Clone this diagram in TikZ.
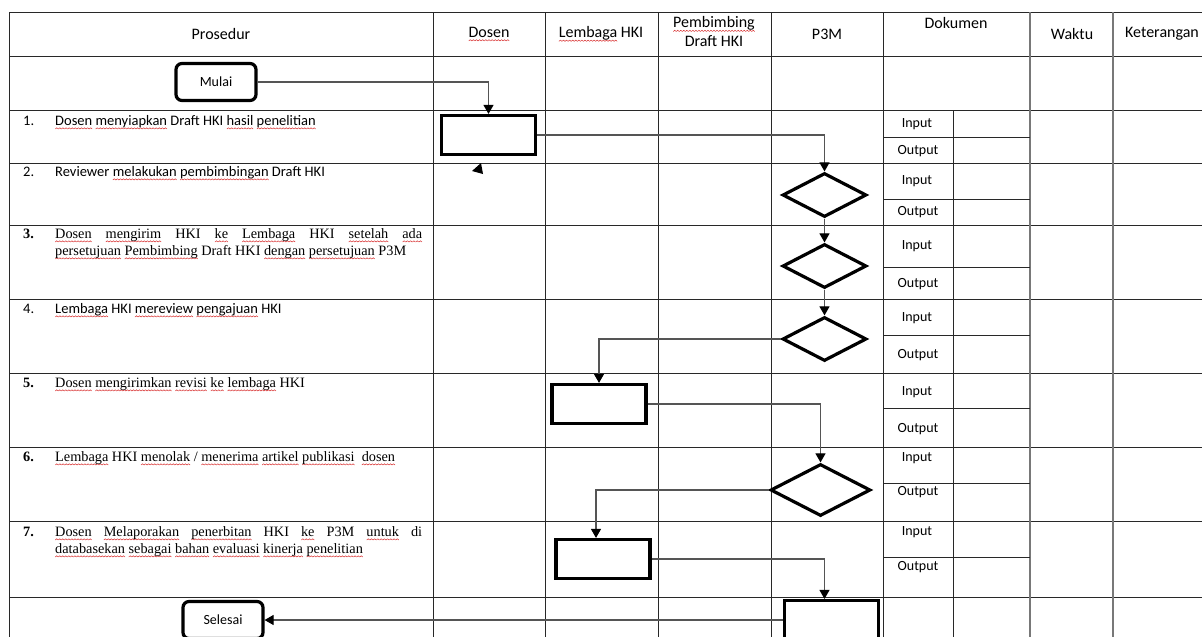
\documentclass[tikz,border=0pt]{standalone}
\usepackage{fontspec}
\setmainfont{Liberation Serif}
\setsansfont{Carlito}
\usetikzlibrary{arrows.meta, shapes.geometric}
\definecolor{rulegray}{RGB}{40, 40, 40}
\definecolor{softgray}{RGB}{120, 120, 120}
\definecolor{linkgray}{RGB}{85, 85, 85}
\definecolor{wavered}{RGB}{215, 45, 45}
% red squiggle under a word
\newsavebox\wavebox
\newsavebox\sqbox
\newcommand\sq[1]{\sbox\sqbox{#1}%
  \rlap{\lower3.5pt\hbox to\wd\sqbox{\xleaders\copy\wavebox\hfil}}\usebox\sqbox}
\tikzset{
  tablerule/.style={draw=rulegray, line width=1pt},
  softrule/.style={draw=softgray, line width=1.6pt},
  hd/.style={font=\sffamily\fontsize{16}{19}\selectfont, inner sep=0pt, align=center},
  io/.style={font=\sffamily\fontsize{14}{16}\selectfont, inner sep=0pt},
  stepsans/.style={font=\sffamily\fontsize{14.5}{17}\selectfont, anchor=base west, inner sep=0pt},
  stepserif/.style={font=\rmfamily\fontsize{14.3}{17}\selectfont, anchor=base west, inner sep=0pt},
  stepnum/.style={stepserif, font=\rmfamily\bfseries\fontsize{14.3}{17}\selectfont},
  act/.style={rectangle, draw=black, fill=white, line width=3.2pt, minimum width=94pt, minimum height=39pt, inner sep=0pt},
  term/.style={act, rounded corners=6pt, minimum width=80pt, minimum height=37pt, font=\sffamily\fontsize{14}{16}\selectfont},
  dec/.style={diamond, draw=black, fill=white, line width=3.2pt, minimum width=84pt, minimum height=44pt, inner sep=0pt},
  flow/.style={-{Triangle[length=9pt, width=10pt, color=black]}, line width=1.1pt, draw=linkgray},
}

\begin{document}
\sbox\wavebox{\begin{pgfpicture}
  \pgfsetlinewidth{0.5pt}\pgfsetstrokecolor{wavered}
  \pgfpathmoveto{\pgfpoint{0pt}{0pt}}
  \pgfpathlineto{\pgfpoint{1.5pt}{1.2pt}}
  \pgfpathlineto{\pgfpoint{3pt}{0pt}}
  \pgfusepath{stroke}
  \pgfresetboundingbox
  \pgfpathrectangle{\pgfpointorigin}{\pgfpoint{3pt}{1.2pt}}
  \pgfusepath{use as bounding box}
\end{pgfpicture}}%
\begin{tikzpicture}[x=1pt, y=-1pt]
  \useasboundingbox (0,0) rectangle (1202,637);
  \clip (0,0) rectangle (1202,637);
  % table rules
  \foreach \y in {12,56,110,163,225,299,373,447,521,597}
    \draw[tablerule] (9,\y) -- (1215,\y);
  \foreach \x in {9,433,545,658,771,883}
    \draw[tablerule] (\x,12) -- (\x,645);
  \foreach \x in {1030,1113}
    \draw[softrule] (\x,12) -- (\x,645);
  \draw[tablerule] (953,110) -- (953,645);
  \foreach \y in {137,199,267,335,408,483,557}
    \draw[tablerule] (883,\y) -- (1030,\y);

  % header
  \node[hd] (hProsedur) at (221,34) {Prosedur};
  \node[hd] (hDosen) at (489,34) {\sq{Dosen}};
  \node[hd] (hLembaga) at (601,34) {\sq{Lembaga} HKI};
  \node[hd] (hPembimbing) at (714,32) {\sq{Pembimbing}\\Draft HKI};
  \node[hd] (hP3M) at (827,34) {P3M};
  \node[hd] (hDokumen) at (956,23) {Dokumen};
  \node[hd] (hWaktu) at (1072,34) {Waktu};
  \node[hd] (hKet) at (1162,34) {Keterangan};

  % procedure steps
  \node[stepsans] (n1) at (23,125.5) {1.};
  \node[stepsans] (s1) at (55,125.5) {\sq{Dosen} \sq{menyiapkan} Draft HKI \sq{hasil} \sq{penelitian}};
  \node[stepsans] (n2) at (23,176.5) {2.};
  \node[stepsans] (s2) at (55,176.5) {Reviewer \sq{melakukan} \sq{pembimbingan} Draft HKI};
  \node[stepnum] (n3) at (23,238.5) {3.};
  \node[stepserif, text width=367pt, align=justify] (s3) at (55,238.5)
    {\sq{Dosen} \sq{mengirim} HKI \sq{ke} \sq{Lembaga} HKI \sq{setelah} \sq{ada}\linebreak
     \sq{persetujuan} \sq{Pembimbing} Draft HKI \sq{dengan} \sq{persetujuan} P3M};
  \node[stepsans] (n4) at (23,313.5) {4.};
  \node[stepsans] (s4) at (55,313.5) {\sq{Lembaga} HKI \sq{mereview} \sq{pengajuan} HKI};
  \node[stepnum] (n5) at (23,387.5) {5.};
  \node[stepserif] (s5) at (55,387.5) {\sq{Dosen} \sq{mengirimkan} \sq{revisi} \sq{ke} \sq{lembaga} HKI};
  \node[stepnum] (n6) at (23,461.5) {6.};
  \node[stepserif] (s6) at (55,461.5) {\sq{Lembaga} HKI \sq{menolak} / \sq{menerima} \sq{artikel} \sq{publikasi} \ \sq{dosen}};
  \node[stepnum] (n7) at (23,536.5) {7.};
  \node[stepserif, text width=367pt, align=justify] (s7) at (55,536.5)
    {\sq{Dosen} \sq{Melaporakan} \sq{penerbitan} HKI \sq{ke} P3M \sq{untuk} di\linebreak
     \sq{databasekan} \sq{sebagai} \sq{bahan} \sq{evaluasi} \sq{kinerja} \sq{penelitian}};

  % document slots
  \foreach \n/\yi/\yo in {1/124/151, 2/181/212, 3/246/284, 4/318/355, 5/392/429, 6/458/492, 7/532/567}{
    \node[io] (in\n) at (917,\yi) {Input};
    \node[io] (out\n) at (918,\yo) {Output};
  }

  % flow shapes
  \node[term] (mulai) at (216,82) {Mulai};
  \node[act] (siap) at (488.5,135) {};
  \node[dec] (bimbing) at (824.5,195) {};
  \node[dec] (kirim) at (824.5,266) {};
  \node[dec] (review) at (824.5,339) {};
  \node[act] (revisi) at (599,404) {};
  \node[dec, minimum width=100pt, minimum height=52pt] (putus) at (820.5,490) {};
  \node[act] (lapor) at (603,559) {};
  \node[act] (arsip) at (831.5,620) {};
  \node[term] (selesai) at (223,620) {Selesai};
  \fill[black] (472,171) -- (481,163) -- (483,174) -- cycle;

  % connectors
  \draw[flow] (mulai.east) -| (siap.north);
  \draw[flow] (siap.east) -| (bimbing.north);
  \draw[flow] (bimbing.south) -- (kirim.north);
  \draw[flow] (kirim.south) -- (review.north);
  \draw[flow] (review.west) -| (revisi.north);
  \draw[flow] (revisi.east) -| (putus.north);
  \draw[flow] (putus.west) -| ([xshift=-7pt]lapor.north);
  \draw[flow] (lapor.east) -| ([xshift=-7pt]arsip.north);
  \draw[flow] (arsip.west) -- (selesai.east);
\end{tikzpicture}
\end{document}
